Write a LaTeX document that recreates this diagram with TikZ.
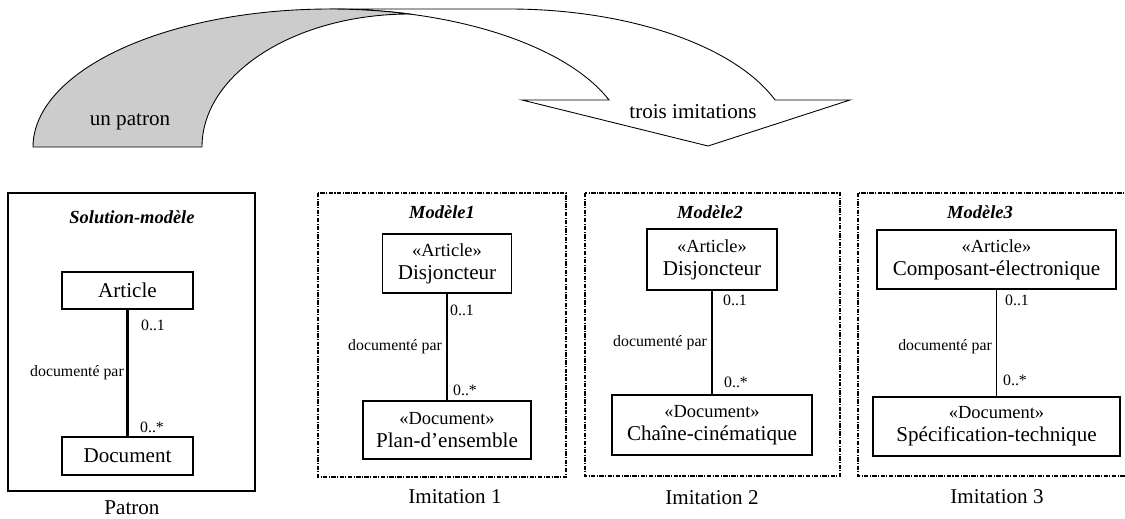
\documentclass[tikz,border=0pt]{standalone}
\usepackage{fontspec}
\setmainfont{Liberation Serif}
\usepackage{tikz}
\usetikzlibrary{positioning}

\tikzset{
  classe/.style={draw, line width=0.6pt, inner sep=0pt, align=center,
    font=\fontsize{12}{14}\selectfont},
  role/.style={font=\fontsize{9}{10}\selectfont, inner sep=0pt},
  titre/.style={font=\fontsize{10.5}{12}\selectfont\bfseries\itshape, inner sep=0pt},
  legende/.style={font=\fontsize{12}{14}\selectfont, inner sep=0pt},
  modele/.style={line width=0.6pt, dash pattern=on 2.5pt off 0.8pt on 0.6pt off 0.8pt},
}
% stereotype above the class name
\newcommand{\stereo}[2]{{\fontsize{10.5}{12}\selectfont «#1»}\\[-1pt]#2}

\begin{document}
\begin{tikzpicture}
            \useasboundingbox (0, 0) rectangle (22.5, -10.36);

            % curved arrow: white front part, then the grey back part over it
            \draw [fill=white, line width=0.5pt] (6.6, -0.18) -- (10.18, -0.18)
                arc [start angle=90, end angle=19.9, x radius=5.66, y radius=2.76]
                -- (17.0, -2.0) -- (14.16, -2.92) -- (10.44, -2.0) -- (12.18, -2.0)
                arc [start angle=19.9, end angle=90, x radius=5.94, y radius=2.76] -- cycle;
            \draw [fill=gray!40, line width=0.5pt] (0.66, -2.94)
                arc [start angle=180, end angle=74.4, x radius=5.94, y radius=2.76]
                -- (8.2, -0.28)
                arc [start angle=90, end angle=180, x radius=4.16, y radius=2.66] -- cycle;
            \node [legende] (un_patron) at (2.6, -2.44) {un patron};
            \node [legende] (trois_imitations) at (13.86, -2.24) {trois imitations};

            % pattern
            \draw [line width=1.2pt] (0.16, -3.86) rectangle (5.1, -9.82);
            \node [titre] (solution) at (2.64, -4.34) {Solution-modèle};
            \node [classe, line width=1.2pt, minimum width=2.62cm, minimum height=0.74cm] (article0) at (2.55, -5.81) {Article};
            \node [classe, line width=1.2pt, minimum width=2.62cm, minimum height=0.76cm] (document0) at (2.55, -9.12) {Document};
            \draw [line width=1.2pt] (article0) -- (document0);
            \node [role] (mult0a) at (3.06, -6.5) {0..1};
            \node [role] (mult0b) at (3.04, -8.54) {0..*};
            \node [role] (assoc0) at (1.54, -7.46) {documenté par};
            \node [legende] (patron) at (2.64, -10.16) {Patron};

            % first imitation
            \draw [modele] (6.36, -3.86) rectangle (11.32, -9.54);
            \node [titre] (modele1) at (8.84, -4.24) {Modèle1};
            \node [classe, minimum width=2.58cm, minimum height=1.18cm] (article1) at (8.94, -5.27) {\stereo{Article}{Disjoncteur}};
            \node [classe, minimum width=3.36cm, minimum height=1.16cm] (document1) at (8.94, -8.6) {\stereo{Document}{Plan-d’ensemble}};
            \draw [line width=0.6pt] (article1) -- (document1);
            \node [role] (mult1a) at (9.24, -6.2) {0..1};
            \node [role] (mult1b) at (9.3, -7.8) {0..*};
            \node [role] (assoc1) at (7.9, -6.94) {documenté par};
            \node [legende] (imitation1) at (9.1, -9.94) {Imitation 1};

            % second imitation
            \draw [modele] (11.7, -3.86) rectangle (16.8, -9.52);
            \node [titre] (modele2) at (14.2, -4.24) {Modèle2};
            \node [classe, minimum width=2.6cm, minimum height=1.22cm] (article2) at (14.24, -5.19) {\stereo{Article}{Disjoncteur}};
            \node [classe, minimum width=4.0cm, minimum height=1.2cm] (document2) at (14.24, -8.5) {\stereo{Document}{Chaîne-cinématique}};
            \draw [line width=0.6pt] (article2) -- (document2);
            \node [role] (mult2a) at (14.7, -6.0) {0..1};
            \node [role] (mult2b) at (14.72, -7.64) {0..*};
            \node [role] (assoc2) at (13.2, -6.86) {documenté par};
            \node [legende] (imitation2) at (14.24, -9.96) {Imitation 2};

            % third imitation
            \draw [modele] (17.16, -3.86) rectangle (22.56, -9.52);
            \node [titre] (modele3) at (19.6, -4.24) {Modèle3};
            \node [classe, minimum width=4.78cm, minimum height=1.18cm] (article3) at (19.93, -5.19) {\stereo{Article}{Composant-électronique}};
            \node [classe, minimum width=4.94cm, minimum height=1.18cm] (document3) at (19.93, -8.53) {\stereo{Document}{Spécification-technique}};
            \draw [line width=0.6pt] (article3) -- (document3);
            \node [role] (mult3a) at (20.34, -6.0) {0..1};
            \node [role] (mult3b) at (20.3, -7.6) {0..*};
            \node [role] (assoc3) at (18.9, -6.94) {documenté par};
            \node [legende] (imitation3) at (19.94, -9.94) {Imitation 3};
        \end{tikzpicture}
\end{document}
